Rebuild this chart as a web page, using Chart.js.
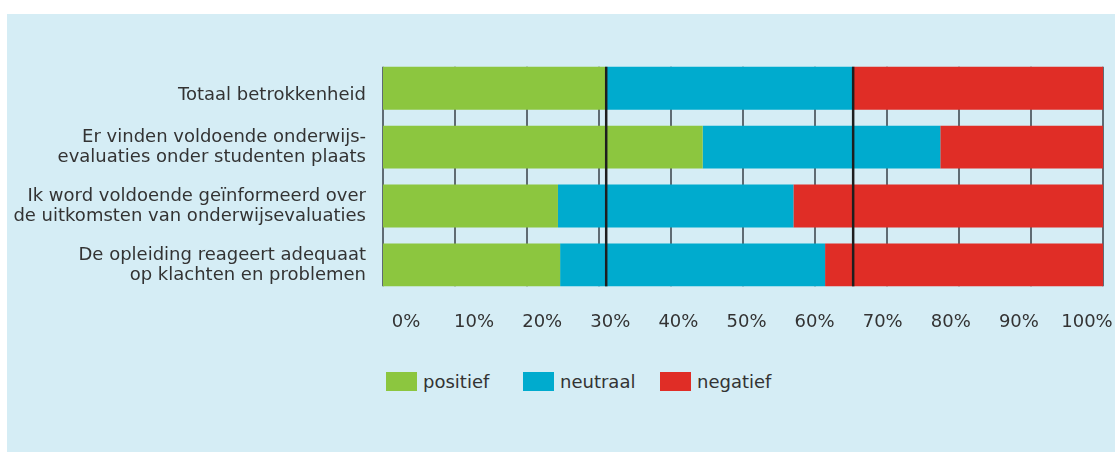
<!DOCTYPE html>
<html>
<head>
<meta charset="utf-8">
<script src="https://cdn.jsdelivr.net/npm/chart.js@4.4.0/dist/chart.umd.min.js"></script>
<style>
  body { margin: 0; background: #fff; font-family: "DejaVu Sans", sans-serif; }
  #panel { position: absolute; left: 7px; top: 14px; width: 1108px; height: 438px; background: #d5edf5; }
  #wrap { position: absolute; left: 0; top: 0; width: 1108px; height: 340px; }
  #legend { position: absolute; left: 379px; top: 357px; display: flex; }
  .item { width: 137px; display: flex; align-items: center; font-size: 18px; color: #333; }
  .box { width: 31px; height: 19px; margin-right: 6px; }
</style>
</head>
<body>
<div id="panel">
  <div id="wrap"><canvas id="chart"></canvas></div>
  <div id="legend"></div>
</div>
<script>
  // ==========================
  // Data
  // ==========================
  // the single-line label sits a bit low in the original, hence the empty first line
  const categories = [
    ["", "Totaal betrokkenheid"],
    ["Er vinden voldoende onderwijs-", "evaluaties onder studenten plaats"],
    ["Ik word voldoende geïnformeerd over", "de uitkomsten van onderwijsevaluaties"],
    ["De opleiding reageert adequaat", "op klachten en problemen"]
  ];
  const positief = [31.0, 44.4, 24.3, 24.6];
  const neutraal = [34.3, 33.0, 32.7, 36.8];
  const negatief = [34.7, 22.6, 43.0, 38.6];
  const tickValues = [0, 10, 20, 30, 40, 50, 60, 70, 80, 90, 100];
  const refLines = [31.0, 65.3];

  const colors = { positief: "#8cc63f", neutraal: "#00abce", negatief: "#e02d26" };

  // gridlines behind the bars, only over the bar band; reference lines on top
  const bandLines = {
    id: "bandLines",
    beforeDatasetsDraw(chart) {
      drawLines(chart, tickValues, "#5f6b73", 2);
    },
    afterDatasetsDraw(chart) {
      drawLines(chart, refLines, "#1e1e1e", 2.5);
    }
  };

  function drawLines(chart, values, color, width) {
    const meta = chart.getDatasetMeta(0).data;
    const first = meta[0], last = meta[meta.length - 1];
    const top = first.y - first.height / 2;
    const bottom = last.y + last.height / 2;
    const ctx = chart.ctx;
    const x = chart.scales.x;
    ctx.save();
    ctx.strokeStyle = color;
    ctx.lineWidth = width;
    values.forEach(v => {
      const px = x.getPixelForValue(v);
      ctx.beginPath();
      ctx.moveTo(px, top);
      ctx.lineTo(px, bottom);
      ctx.stroke();
    });
    ctx.restore();
  }

  const font = "DejaVu Sans";

  const chart = new Chart(document.getElementById("chart"), {
    type: "bar",
    data: {
      labels: categories,
      datasets: [
        { label: "positief", data: positief, backgroundColor: colors.positief },
        { label: "neutraal", data: neutraal, backgroundColor: colors.neutraal },
        { label: "negatief", data: negatief, backgroundColor: colors.negatief }
      ]
    },
    options: {
      indexAxis: "y",
      responsive: true,
      maintainAspectRatio: false,
      animation: false,
      layout: { padding: { top: 44.8, right: 12, left: 0, bottom: 0 } },
      datasets: { bar: { categoryPercentage: 0.729, barPercentage: 1, borderWidth: 0 } },
      plugins: { legend: { display: false }, tooltip: { enabled: false } },
      scales: {
        x: {
          stacked: true, min: 0, max: 100, display: false
        },
        // tick labels sit on their own slightly narrower scale, as in the original
        x2: {
          type: "linear", position: "bottom", min: -3.377, max: 102.35,
          grid: { display: false, drawTicks: false }, border: { display: false },
          afterBuildTicks: axis => { axis.ticks = tickValues.map(v => ({ value: v })); },
          afterFit: axis => { axis.height = 59.7; axis.paddingLeft = 0; axis.paddingRight = 0; },
          ticks: {
            padding: 17, color: "#333",
            font: { family: font, size: 18 },
            callback: v => v + "%"
          }
        },
        y: {
          stacked: true,
          grid: { display: false, drawTicks: false }, border: { display: false },
          afterFit: axis => { axis.width = 376; },
          ticks: {
            padding: 17, color: "#333",
            font: ctx => ({ family: font, size: 18, lineHeight: ctx.index === 0 ? 0.8 : 1.11 })
          }
        }
      }
    },
    plugins: [bandLines]
  });

  // ==========================
  // Legend
  // ==========================
  const legend = document.getElementById("legend");
  chart.data.datasets.forEach(ds => {
    legend.innerHTML += `<div class="item"><span class="box" style="background:${ds.backgroundColor}"></span>${ds.label}</div>`;
  });
</script>
</body>
</html>
